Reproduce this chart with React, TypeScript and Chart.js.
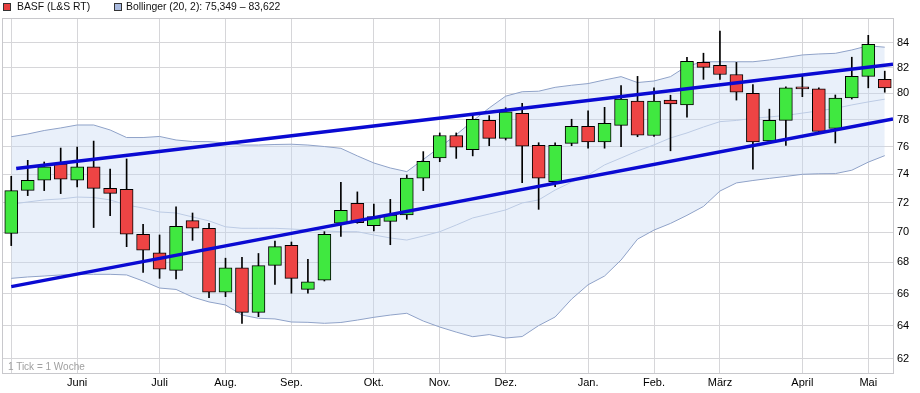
import React, { useEffect, useRef } from 'react';
import { Chart, registerables } from 'chart.js';

Chart.register(...registerables);

// Week index of each candle (1 tick = 1 week)
const weeks = [
  0, 1, 2, 3, 4, 5, 6, 7, 8, 9, 10, 11, 12, 13, 14, 15, 16, 17, 18, 19, 20, 21, 22, 23, 24, 25, 26,
  27, 28, 29, 30, 31, 32, 33, 34, 35, 36, 37, 38, 39, 40, 41, 42, 43, 44, 45, 46, 47, 48, 49, 50, 51,
  52, 53,
];

const opens = [
  69.93, 72.88, 73.59, 74.75, 73.59, 74.55, 73.02, 72.95, 69.87, 68.64, 67.49, 70.79, 70.27, 66.08,
  67.65, 64.82, 67.81, 69.13, 66.27, 66.85, 70.61, 71.98, 70.45, 70.74, 71.17, 73.74, 75.18, 76.82,
  75.78, 77.95, 76.61, 78.48, 76.1, 73.48, 76.24, 77.5, 76.35, 77.57, 79.41, 76.82, 79.48, 79.11,
  82.41, 82.17, 81.46, 80.0, 76.43, 77.95, 80.5, 80.34, 77.35, 79.64, 81.31, 81.08,
];
const highs = [
  73.87, 75.01, 74.89, 75.9, 75.98, 76.41, 74.38, 75.11, 70.54, 69.82, 71.73, 71.31, 70.61, 68.28,
  68.34, 68.59, 69.41, 69.35, 68.21, 70.04, 73.45, 72.77, 71.93, 72.25, 73.96, 75.64, 77.01, 77.01,
  78.3, 78.3, 78.9, 79.23, 76.29, 76.29, 78.03, 78.66, 78.93, 80.6, 81.31, 80.42, 79.85, 82.82,
  83.14, 84.93, 82.41, 80.68, 78.79, 80.5, 81.31, 80.42, 79.87, 82.82, 84.58, 81.72,
];
const lows = [
  69.11, 72.51, 72.86, 72.65, 73.11, 70.32, 71.12, 69.04, 67.36, 66.97, 66.94, 69.46, 65.74, 65.8,
  64.14, 64.55, 66.58, 66.02, 66.02, 66.8, 69.72, 70.61, 70.09, 69.17, 70.88, 72.86, 74.91, 75.15,
  75.33, 76.07, 76.49, 73.41, 71.56, 73.13, 76.07, 75.89, 75.89, 76.0, 76.73, 76.75, 75.7, 78.18,
  81.08, 81.08, 79.48, 74.37, 76.4, 76.1, 79.74, 77.05, 76.27, 79.56, 80.42, 80.08,
];
const closes = [
  72.86, 73.59, 74.55, 73.66, 74.55, 73.02, 72.67, 69.87, 68.8, 67.56, 70.41, 70.27, 66.08, 67.65,
  64.82, 67.79, 69.04, 66.97, 66.75, 69.87, 71.49, 70.65, 71.06, 71.17, 73.74, 74.94, 76.82, 75.96,
  78.03, 76.61, 78.58, 76.03, 73.74, 76.1, 77.5, 76.35, 77.73, 79.56, 76.84, 79.41, 79.18, 82.49,
  82.02, 81.46, 80.08, 76.35, 77.95, 80.42, 80.34, 77.13, 79.64, 81.31, 83.85, 80.42,
];

// Bollinger (20, 2)
const bollUpper = [
  76.73, 76.93, 77.19, 77.38, 77.6, 77.6, 77.23, 76.67, 76.67, 76.75, 76.49, 76.38, 76.37, 76.27,
  76.12, 76.12, 76.16, 76.18, 76.12, 76.01, 75.88, 75.33, 74.82, 74.46, 74.2, 75.07, 75.96, 76.88,
  77.9, 78.88, 79.78, 80.12, 80.16, 80.46, 80.62, 80.75, 81.03, 81.29, 80.83, 80.95, 81.29, 82.12,
  82.46, 82.46, 82.46, 82.46, 82.6, 82.8, 83.0, 83.08, 83.13, 83.4, 83.74, 83.622,
];
const bollMiddle = [
  71.91, 72.07, 72.21, 72.28, 72.41, 72.38, 72.21, 71.86, 71.65, 71.38, 71.31, 71.04, 70.77, 70.37,
  70.27, 70.27, 70.27, 70.22, 70.16, 70.09, 70.04, 70.04, 69.82, 69.62, 69.48, 69.75, 70.04, 70.49,
  70.97, 71.24, 71.52, 72.0, 72.21, 72.9, 73.46, 73.96, 74.68, 75.18, 75.69, 76.13, 76.64, 77.01,
  77.45, 77.85, 77.94, 78.1, 78.2, 78.32, 78.49, 78.66, 78.85, 79.11, 79.34, 79.55,
];
const bollLower = [
  66.97, 67.06, 67.12, 67.19, 67.23, 67.23, 67.23, 67.19, 66.8, 66.35, 66.26, 65.78, 65.47, 65.28,
  64.65, 64.45, 64.41, 64.22, 64.2, 64.14, 64.19, 64.34, 64.51, 64.65, 64.76, 64.28, 63.91, 63.6,
  63.32, 63.45, 63.24, 63.33, 64.0, 64.53, 65.65, 66.56, 67.12, 68.16, 69.54, 70.15, 70.6, 71.15,
  71.76, 72.83, 73.4, 73.57, 73.72, 73.86, 74.01, 74.05, 74.06, 74.3, 74.88, 75.349,
];

// Trend lines (start / end in week index and price)
const upperTrendWeeks = [0.3, 53.5];
const upperTrendPrices = [74.43, 82.26];
const lowerTrendWeeks = [0.0, 53.5];
const lowerTrendPrices = [66.44, 78.05];

// Axis ticks
const monthTickWeeks = [0, 4, 9, 13, 17, 22, 26, 30, 35, 39, 43, 48, 52];
const monthLabels = ['', 'Juni', 'Juli', 'Aug.', 'Sep.', 'Okt.', 'Nov.', 'Dez.', 'Jan.', 'Feb.', 'März', 'April', 'Mai'];
const priceTicks = [62, 64, 66, 68, 70, 72, 74, 76, 78, 80, 82, 84];

const GREEN = '#40e840';
const RED = '#ee4444';
const GRID = '#d6d6d9';
const FONT = '"Liberation Sans", Arial, sans-serif';

const frame = {
  id: 'frame',
  beforeDatasetsDraw(chart: any) {
    const { ctx, chartArea } = chart;
    ctx.save();
    ctx.strokeStyle = '#c8c8cc';
    ctx.lineWidth = 1;
    ctx.strokeRect(
      Math.round(chartArea.left) - 0.5,
      Math.round(chartArea.top) + 0.5,
      Math.round(chartArea.right - chartArea.left) + 1,
      Math.round(chartArea.bottom - chartArea.top)
    );
    ctx.restore();
  },
};

export default function App() {
  const ref = useRef<HTMLCanvasElement | null>(null);

  useEffect(() => {
    if (!ref.current) return;
    const colors = weeks.map((_, i) => (closes[i] >= opens[i] ? GREEN : RED));
    const chart = new Chart(ref.current, {
      type: 'bar',
      data: {
        datasets: [
          {
            type: 'line',
            label: 'lower',
            data: weeks.map((w, i) => ({ x: w, y: bollLower[i] })),
            borderColor: '#8fa2c8',
            borderWidth: 1,
            pointRadius: 0,
            tension: 0,
            fill: false,
            order: 10,
          } as any,
          {
            type: 'line',
            label: 'upper',
            data: weeks.map((w, i) => ({ x: w, y: bollUpper[i] })),
            borderColor: '#8fa2c8',
            borderWidth: 1,
            pointRadius: 0,
            tension: 0,
            fill: '-1',
            backgroundColor: 'rgba(196,216,243,0.38)',
            order: 10,
          } as any,
          {
            type: 'line',
            label: 'middle',
            data: weeks.map((w, i) => ({ x: w, y: bollMiddle[i] })),
            borderColor: '#bccbe4',
            borderWidth: 1,
            pointRadius: 0,
            tension: 0,
            fill: false,
            order: 9,
          } as any,
          {
            label: 'wicks',
            data: weeks.map((w, i) => ({ x: w, y: [lows[i], highs[i]] })),
            backgroundColor: '#000',
            borderWidth: 0,
            barThickness: 1,
            grouped: false,
            order: 5,
          } as any,
          {
            label: 'BASF (L&S RT)',
            data: weeks.map((w, i) => ({ x: w, y: [opens[i], closes[i]] })),
            backgroundColor: colors,
            borderColor: '#000',
            borderWidth: 1,
            borderSkipped: false,
            barThickness: 13,
            grouped: false,
            order: 4,
          } as any,
          {
            type: 'line',
            label: 'trendUpper',
            data: upperTrendWeeks.map((w, i) => ({ x: w, y: upperTrendPrices[i] })),
            borderColor: '#0a0ad2',
            borderWidth: 3.5,
            pointRadius: 0,
            fill: false,
            order: 1,
          } as any,
          {
            type: 'line',
            label: 'trendLower',
            data: lowerTrendWeeks.map((w, i) => ({ x: w, y: lowerTrendPrices[i] })),
            borderColor: '#0a0ad2',
            borderWidth: 3.5,
            pointRadius: 0,
            fill: false,
            order: 1,
          } as any,
        ],
      },
      options: {
        animation: false,
        responsive: true,
        maintainAspectRatio: false,
        events: [],
        layout: { padding: { left: 3, top: 18, right: 0, bottom: 0 } },
        plugins: { legend: { display: false }, tooltip: { enabled: false } },
        scales: {
          x: {
            type: 'linear',
            min: -0.5,
            max: 53.5,
            offset: false,
            afterBuildTicks: (s: any) => {
              s.ticks = monthTickWeeks.map((v) => ({ value: v }));
            },
            afterFit: (s: any) => {
              s.height = 20;
            },
            ticks: {
              autoSkip: false,
              maxRotation: 0,
              padding: 3,
              color: '#000',
              font: { family: FONT, size: 11 },
              callback: (_v: any, index: number) => monthLabels[index] ?? '',
            },
            grid: { color: GRID, drawTicks: false, lineWidth: 1, offset: false },
            border: { display: false },
          },
          y: {
            type: 'logarithmic',
            position: 'right',
            min: 61.15,
            max: 86.0,
            afterBuildTicks: (s: any) => {
              s.ticks = priceTicks.map((v) => ({ value: v }));
            },
            afterFit: (s: any) => {
              s.width = 27;
            },
            ticks: {
              padding: 4,
              color: '#000',
              font: { family: FONT, size: 11 },
              callback: (v: any) => String(v),
            },
            grid: { color: GRID, drawTicks: false, lineWidth: 1 },
            border: { display: false },
          },
        },
      } as any,
      plugins: [frame],
    });
    return () => chart.destroy();
  }, []);

  return (
    <div
      style={{
        position: 'absolute',
        left: 0,
        top: 0,
        width: 920,
        height: 393,
        background: '#fff',
        fontFamily: FONT,
        overflow: 'hidden',
      }}
    >
      <canvas ref={ref} style={{ position: 'absolute', left: 0, top: 0, width: 920, height: 393 }} />
      <div style={{ position: 'absolute', left: 3, top: 3, width: 6, height: 6, background: '#e84040', border: '1px solid #333' }} />
      <div style={{ position: 'absolute', left: 17, top: 0, fontSize: 10.4, lineHeight: '14px', color: '#111', whiteSpace: 'nowrap' }}>
        BASF (L&amp;S RT)
      </div>
      <div style={{ position: 'absolute', left: 114, top: 3, width: 6, height: 6, background: '#a9badf', border: '1px solid #333' }} />
      <div style={{ position: 'absolute', left: 126, top: 0, fontSize: 10.4, lineHeight: '14px', color: '#111', whiteSpace: 'nowrap' }}>
        Bollinger (20, 2): 75,349 – 83,622
      </div>
      <div style={{ position: 'absolute', left: 8, top: 360, fontSize: 10, lineHeight: '14px', color: '#a0a0a0', whiteSpace: 'nowrap' }}>
        1 Tick = 1 Woche
      </div>
    </div>
  );
}
